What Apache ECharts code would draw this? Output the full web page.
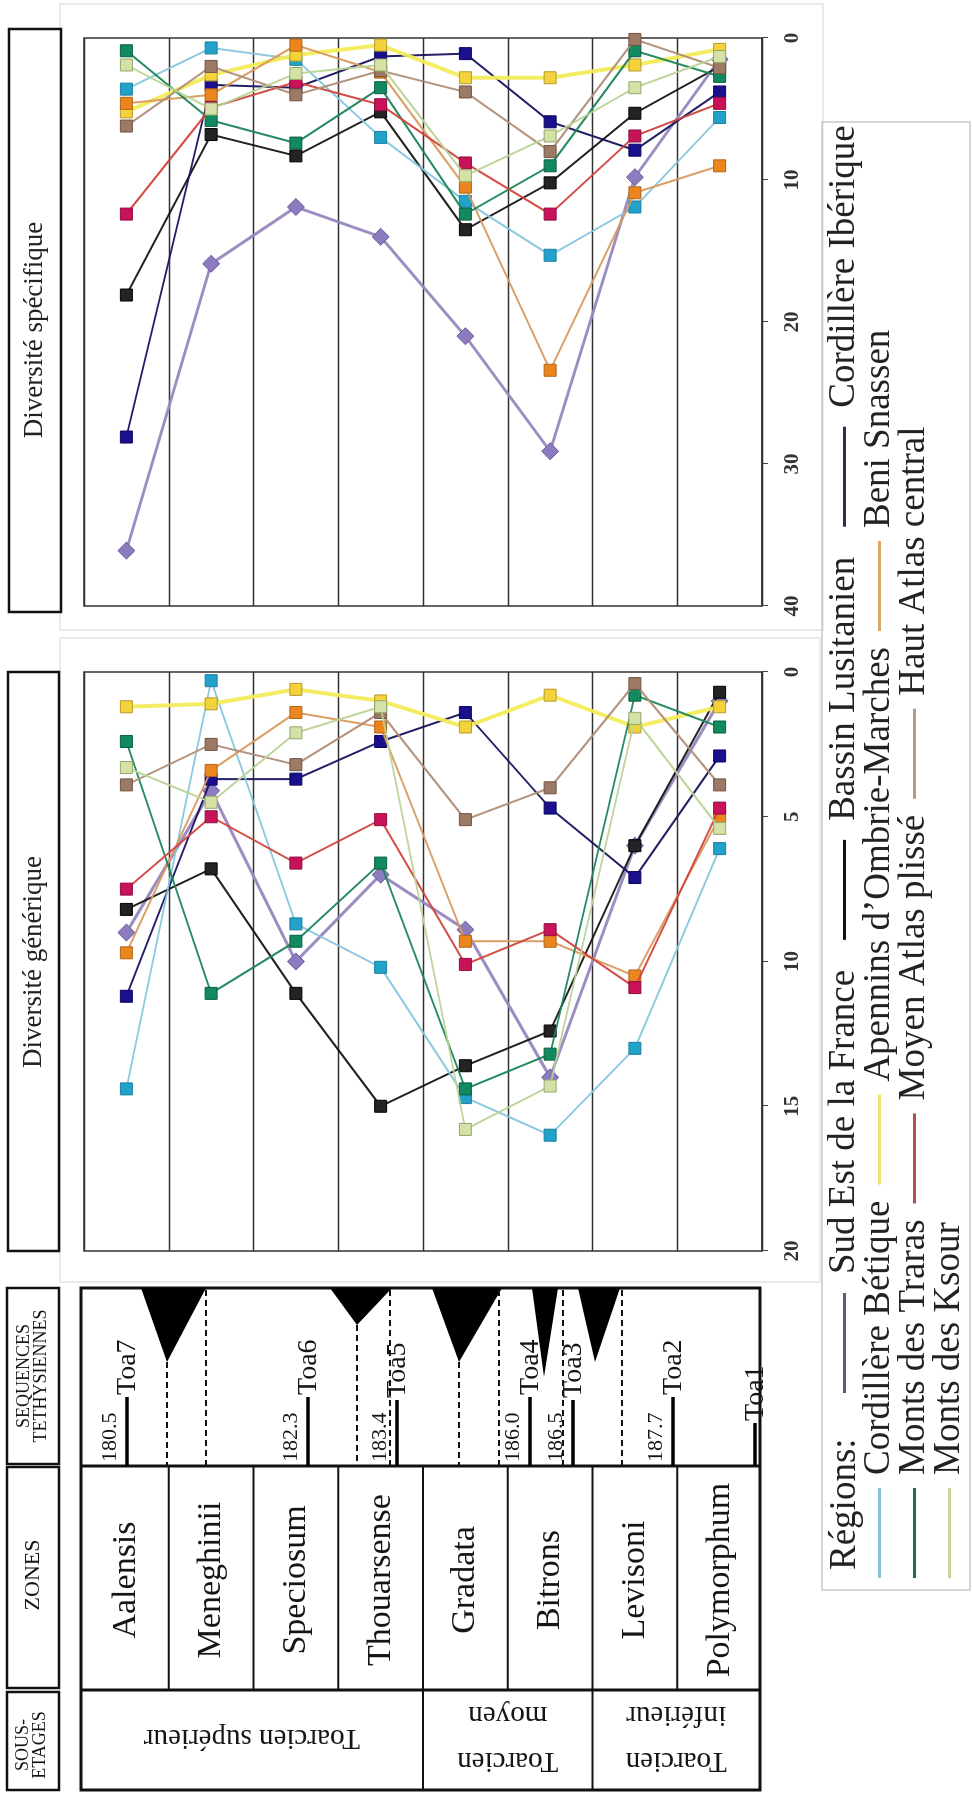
<!DOCTYPE html>
<html><head><meta charset="utf-8">
<script src="https://cdn.jsdelivr.net/npm/echarts@6/dist/echarts.min.js"></script>
<style>
html,body{margin:0;padding:0;width:972px;height:1798px;overflow:hidden;background:#fff;}
#rot{position:absolute;left:0;top:0;width:1798px;height:972px;transform-origin:0 0;transform:translateY(1798px) rotate(-90deg);}
#chart{width:1798px;height:972px;}
</style></head><body>
<div id="rot"><div id="chart"></div></div>
<script>
// ---------- DATA ----------
const zones = ['Aalensis','Meneghinii','Speciosum','Thouarsense','Gradata','Bitrons','Levisoni','Polymorphum'];
const regions = ['Sud Est de la France','Bassin Lusitanien','Cordillère Ibérique','Cordillère Bétique',
  'Apennins d\u2019Ombrie-Marches','Beni Snassen','Monts des Traras','Moyen Atlas plissé','Haut Atlas central','Monts des Ksour'];
const sousEtages = ['Toarcien supérieur','Toarcien\nmoyen','Toarcien\ninférieur'];
const sequences = ['Toa7','Toa6','Toa5','Toa4','Toa3','Toa2','Toa1'];
const seqAges = ['180.5','182.3','183.4','186.0','186.5','187.7',''];
const specAxis = [0, 40, 10];   // min, max, interval
const genAxis = [0, 20, 5];

// Diversité spécifique
const specSudEst     = [36.1, 15.9, 11.9, 14.0, 21.0, 29.1, 9.8, 1.5];
const specLusitanien = [18.1, 6.8, 8.3, 5.2, 13.5, 10.2, 5.3, 2.0];
const specIberique   = [28.1, 3.3, 3.5, 1.3, 1.1, 5.9, 7.9, 3.8];
const specBetique    = [3.6, 0.7, 1.5, 7.0, 11.5, 15.3, 11.9, 5.6];
const specApennins   = [5.2, 2.6, 1.2, 0.5, 2.8, 2.8, 1.9, 0.8];
const specBeniSnassen= [4.6, 4.0, 0.5, 2.4, 10.5, 23.4, 10.9, 9.0];
const specTraras     = [0.9, 5.8, 7.4, 3.5, 12.4, 9.0, 0.9, 2.7];
const specMoyenAtlas = [12.4, 4.9, 3.1, 4.7, 8.8, 12.4, 6.9, 4.6];
const specHautAtlas  = [6.2, 2.0, 4.0, 2.3, 3.8, 8.0, 0.1, 2.1];
const specKsour      = [1.9, 5.0, 2.5, 1.9, 9.7, 6.9, 3.5, 1.3];

// Diversité générique
const genSudEst      = [9.0, 4.1, 10.0, 7.0, 8.9, 14.0, 6.0, 1.0];
const genLusitanien  = [8.2, 6.8, 11.1, 15.0, 13.6, 12.4, 6.0, 0.7];
const genIberique    = [11.2, 3.7, 3.7, 2.4, 1.4, 4.7, 7.1, 2.9];
const genBetique     = [14.4, 0.3, 8.7, 10.2, 14.7, 16.0, 13.0, 6.1];
const genApennins    = [1.2, 1.1, 0.6, 1.0, 1.9, 0.8, 1.9, 1.2];
const genBeniSnassen = [9.7, 3.4, 1.4, 1.9, 9.3, 9.3, 10.5, 5.0];
const genTraras      = [2.4, 11.1, 9.3, 6.6, 14.4, 13.2, 0.8, 1.9];
const genMoyenAtlas  = [7.5, 5.0, 6.6, 5.1, 10.1, 8.9, 10.9, 4.7];
const genHautAtlas   = [3.9, 2.5, 3.2, 1.4, 5.1, 4.0, 0.4, 3.9];
const genKsour       = [3.3, 4.5, 2.1, 1.2, 15.8, 14.3, 1.6, 5.4];

const specData = [specSudEst, specLusitanien, specIberique, specBetique, specApennins,
  specBeniSnassen, specTraras, specMoyenAtlas, specHautAtlas, specKsour];
const genData = [genSudEst, genLusitanien, genIberique, genBetique, genApennins,
  genBeniSnassen, genTraras, genMoyenAtlas, genHautAtlas, genKsour];

// ---------- STYLES ----------
const sty = [
  {line:'#9887BF', fill:'#8C7BBE', border:'#6B5A9A', sym:'diamond', size:17, w:3, leg:'#5f5a70'},
  {line:'#151515', fill:'#232323', border:'#000000', sym:'rect', size:12, w:2, leg:'#111111'},
  {line:'#18135E', fill:'#1A0F8C', border:'#0B0760', sym:'rect', size:12, w:2, leg:'#2c2c55'},
  {line:'#86C6DE', fill:'#22A2C8', border:'#1C7FA0', sym:'rect', size:12, w:2, leg:'#8cc2dc'},
  {line:'#F3EC5C', fill:'#F3D23C', border:'#B59B2A', sym:'rect', size:12, w:4, leg:'#ece56a'},
  {line:'#D89A5C', fill:'#EB851E', border:'#B0641A', sym:'rect', size:12, w:2, leg:'#d8a56a'},
  {line:'#1B8558', fill:'#12895F', border:'#0A6040', sym:'rect', size:12, w:2, leg:'#1f6e4a'},
  {line:'#D0463E', fill:'#C8135A', border:'#8F0D40', sym:'rect', size:12, w:2, leg:'#b0504c'},
  {line:'#B08E77', fill:'#9C7A66', border:'#6F5445', sym:'rect', size:12, w:2, leg:'#b39a84'},
  {line:'#B9D495', fill:'#D4E2A8', border:'#94A86A', sym:'rect', size:12, w:2, leg:'#c4d49c'}
];
const SERIF = '"Liberation Serif", "DejaVu Serif", serif';

// ---------- LAYOUT (display coordinates, page is rotated) ----------
const H = 1798;
const gridTop = 84, gridH = 678;            // zone axis extent (display X)
const band = gridH / zones.length;
const bnd = k => gridTop + k * band;

function rectD(x1,y1,x2,y2,style){ return {type:'rect', shape:{x:H-y2, y:x1, width:y2-y1, height:x2-x1}, style:style}; }
function lineD(x1,y1,x2,y2,style){ return {type:'line', shape:{x1:H-y1, y1:x1, x2:H-y2, y2:x2}, style:style}; }
function polyD(pts,style){ return {type:'polygon', shape:{points:pts.map(p=>[H-p[1], p[0]])}, style:style}; }
function textD(X,Y,text,size,o){
  o = o || {};
  const al = o.align || 'center';
  return {type:'text', x:H-Y, y:X, rotation:o.rot||0, z:10,
    style:{text:text, font:(o.bold?'bold ':'')+size+'px '+SERIF, fill:o.fill||'#151515',
      align:al, verticalAlign:'middle', textAlign:al, textVerticalAlign:'middle',
      lineHeight:o.lh}};
}
const thick = {stroke:'#111', lineWidth:3, fill:null};
const mid = {stroke:'#111', lineWidth:2};
const dash = {stroke:'#111', lineWidth:2, lineDash:[6,4]};

const g = [];
// faint panel frames
g.push(rectD(60,4,823,630,{stroke:'#e3e3e3', lineWidth:1.5, fill:null}));
g.push(rectD(60,638,820,1282,{stroke:'#e3e3e3', lineWidth:1.5, fill:null}));
// title boxes
g.push(rectD(9,29,61,612,{stroke:'#111', lineWidth:2.5, fill:'#fff'}));
g.push(rectD(8,672,59,1251,{stroke:'#111', lineWidth:2.5, fill:'#fff'}));
g.push(textD(35,330,'Diversité spécifique',27,{fill:'#222'}));
g.push(textD(34,962,'Diversité générique',27,{fill:'#222'}));
// header boxes
g.push(rectD(7,1288,59,1464,{stroke:'#111', lineWidth:2.5, fill:null}));
g.push(rectD(7,1467,59,1688,{stroke:'#111', lineWidth:2.5, fill:null}));
g.push(rectD(7,1692,59,1790,{stroke:'#111', lineWidth:2.5, fill:null}));
g.push(textD(33,1376,'SEQUENCES\nTETHYSIENNES',18,{lh:17}));
g.push(textD(33,1575,'ZONES',22));
g.push(textD(32,1745,'SOUS-\nETAGES',18,{lh:17}));
// table
g.push(rectD(81,1288,760,1790,thick));
g.push(lineD(81,1466,760,1466,{stroke:'#111', lineWidth:3}));
g.push(lineD(81,1690,760,1690,{stroke:'#111', lineWidth:3}));
for (let k=1;k<zones.length;k++) g.push(lineD(bnd(k),1466,bnd(k),1690,mid));
g.push(lineD(bnd(4),1690,bnd(4),1790,mid));
g.push(lineD(bnd(6),1690,bnd(6),1790,mid));
zones.forEach((z,i)=>g.push(textD(bnd(i)+band/2,1580,z,34)));
g.push(textD((81+bnd(4))/2,1738,sousEtages[0],29,{rot:Math.PI/2}));
g.push(textD((bnd(4)+bnd(6))/2,1738,sousEtages[1],29,{rot:Math.PI/2, lh:46}));
g.push(textD((bnd(6)+760)/2,1738,sousEtages[2],29,{rot:Math.PI/2, lh:46}));
// sequence triangles & dashed limits
[[[141,1288],[206,1288],[167,1362]],
 [[330,1288],[392,1288],[357,1325]],
 [[432,1288],[502,1288],[459,1362]],
 [[532,1288],[558,1288],[544,1377]],
 [[578,1288],[620,1288],[595,1362]]].forEach(t=>g.push(polyD(t,{fill:'#000'})));
[[167,1362],[206,1290],[357,1325],[390,1290],[459,1362],[499,1290],[563,1290],[622,1290]]
  .forEach(d=>g.push(lineD(d[0],d[1],d[0],1466,dash)));
const seqX = [127,308,397,530,573,673,755];
const seqY0 = [1397,1397,1400,1397,1400,1397,1423];
sequences.forEach((s,i)=>{
  g.push(lineD(seqX[i],seqY0[i],seqX[i],1466,{stroke:'#000', lineWidth:3.5}));
  g.push(textD(seqX[i]+1,seqY0[i]-2,s,28,{align:'left'}));
  if (seqAges[i]) g.push(textD(seqX[i]-17,1462,seqAges[i],22,{align:'left'}));
});
// legend frame & label
g.push(rectD(822,122,970,1590,{stroke:'#c8c8c8', lineWidth:1.5, fill:null}));
g.push(textD(845,1570,'Régions:',37,{align:'left', fill:'#222'}));

// ---------- SERIES ----------
const series = [];
[specData, genData].forEach((set,p)=>{
  set.forEach((vals,i)=>{
    const s = sty[i];
    series.push({
      type:'line', name:regions[i], xAxisIndex:p, yAxisIndex:p, clip:false,
      data: vals.map((v,j)=>[v, zones[j]]),
      symbol:s.sym, symbolSize:s.size,
      lineStyle:{color:s.line, width:s.w, opacity:0.95},
      itemStyle:{color:s.fill, borderColor:s.border, borderWidth:1},
      emphasis:{disabled:true}, z:2+i
    });
  });
});

const legRow = (idx, left, center, iw, pad, gap)=>({
  data: idx.map(i=>({name:regions[i], itemStyle:{color:sty[i].leg, borderWidth:0}})),
  left:left, top:center-19, orient:'horizontal', padding:0, itemGap:gap,
  icon:'rect', itemWidth:iw, itemHeight:3, selectedMode:false,
  textStyle:{fontFamily:SERIF, fontSize:37, color:'#222', padding:[0,0,0,pad]}
});

const valAxis = (gi, ax)=>({
  gridIndex:gi, type:'value', inverse:true, min:ax[0], max:ax[1], interval:ax[2], position:'bottom',
  axisLine:{show:true, lineStyle:{color:'#333', width:1.5}},
  axisTick:{show:true, length:6, lineStyle:{color:'#444'}},
  axisLabel:{fontFamily:SERIF, fontWeight:'bold', fontSize:21, color:'#333', margin:20},
  splitLine:{show:false}
});
const catAxis = gi=>({
  gridIndex:gi, type:'category', data:zones, inverse:true, boundaryGap:true,
  axisLine:{show:false}, axisTick:{show:false}, axisLabel:{show:false},
  splitLine:{show:true, interval:0, lineStyle:{color:'#333', width:1.3}}
});

const chart = echarts.init(document.getElementById('chart'), null, {renderer:'canvas'});
chart.setOption({
  animation:false,
  backgroundColor:'#ffffff',
  grid:[
    {left:1192, right:38, top:gridTop, bottom:972-gridTop-gridH, show:true, borderColor:'#333', borderWidth:1.5, backgroundColor:'#fff'},
    {left:547, right:672, top:gridTop, bottom:972-gridTop-gridH, show:true, borderColor:'#333', borderWidth:1.5, backgroundColor:'#fff'}
  ],
  xAxis:[valAxis(0,specAxis), valAxis(1,genAxis)],
  yAxis:[catAxis(0), catAxis(1)],
  legend:[
    legRow([0,1,2], 405, 845, 100, 14, 30),
    legRow([3,4,5], 220, 880, 90, 8, 16),
    legRow([6,7,8], 220, 915, 90, 8, 16),
    legRow([9], 220, 950, 90, 8, 16)
  ],
  graphic:{elements:g},
  series:series
});
</script>
</body></html>
